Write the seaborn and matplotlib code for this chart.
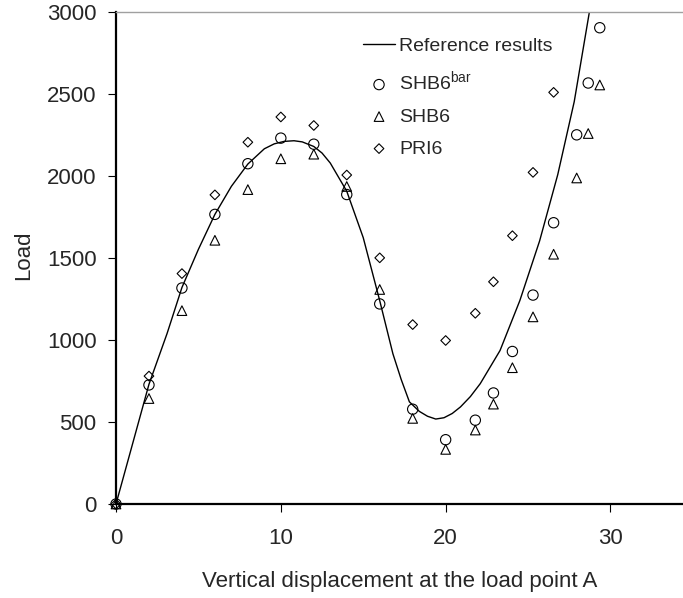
import numpy as np
import pandas as pd
import seaborn as sns
import matplotlib.pyplot as plt

# Reference curve
ref_x = [0, 0.85, 2.0, 3.1, 4.0, 5.0, 6.0, 7.0, 8.0, 9.0, 9.6, 10.2, 10.8, 11.3, 12.0,
         12.5, 13.0, 14.0, 15.0, 16.0, 16.8, 17.3, 17.8, 18.4, 18.9, 19.4, 19.9, 20.4,
         20.9, 21.5, 22.1, 23.3, 24.5, 25.7, 26.8, 27.8, 28.72]
ref_y = [0, 310, 730, 1040, 1320, 1553, 1766, 1937, 2073, 2166, 2196, 2211, 2215, 2208, 2180,
         2140, 2079, 1907, 1624, 1240, 916, 760, 623, 565, 535, 518, 526, 552,
         592, 655, 734, 936, 1240, 1604, 2008, 2453, 3000]

# SHB6^bar (circles)
bar_x = [0, 2, 4, 6, 8, 10, 12, 14, 16, 18, 20, 21.8, 22.9, 24.05, 25.3, 26.55, 27.95, 28.65, 29.35]
bar_y = [0, 726, 1317, 1766, 2075, 2231, 2194, 1887, 1220, 578, 392, 511, 677, 930, 1274, 1715, 2251, 2567, 2904]

# SHB6 (triangles)
shb_x = [0, 2, 4, 6, 8, 10, 12, 14, 16, 18, 20, 21.8, 22.9, 24.05, 25.3, 26.55, 27.95, 28.65, 29.35]
shb_y = [0, 643, 1179, 1608, 1917, 2105, 2133, 1936, 1308, 522, 333, 451, 609, 831, 1141, 1523, 1988, 2259, 2555]

# PRI6 (diamonds)
pri_x = [0, 2, 4, 6, 8, 10, 12, 14, 16, 18, 20, 21.8, 22.9, 24.05, 25.3, 26.55]
pri_y = [0, 780, 1405, 1885, 2206, 2360, 2308, 2006, 1501, 1094, 997, 1163, 1355, 1636, 2022, 2510]

sns.set_style("ticks")
plt.rcParams['font.family'] = ['Liberation Sans', 'DejaVu Sans']
plt.rcParams['mathtext.fontset'] = 'custom'
plt.rcParams['mathtext.rm'] = 'Liberation Sans'

fig = plt.figure(figsize=(6.83, 5.98), dpi=100)
ax = fig.add_axes([116/683, 94/598, 1 - 116/683, 492/598])

sns.lineplot(x=ref_x, y=ref_y, ax=ax, color="black", linewidth=1.0,
             sort=False, estimator=None, label="Reference results")
kw = dict(facecolor="none", edgecolor="black", linewidth=0.8, ax=ax, clip_on=False, zorder=3)
sns.scatterplot(x=bar_x, y=bar_y, marker="o", s=55, label="SHB6$^{\\mathrm{bar}}$", **kw)
sns.scatterplot(x=shb_x, y=shb_y, marker="^", s=48, label="SHB6", **kw)
sns.scatterplot(x=pri_x, y=pri_y, marker="D", s=24, label="PRI6", **kw)

ax.set_xlim(0, 34.4)
ax.set_ylim(0, 3000)
ax.set_xticks([0, 10, 20, 30])
ax.set_yticks([0, 500, 1000, 1500, 2000, 2500, 3000])

ax.spines['right'].set_visible(False)
ax.spines['top'].set_color('#a0a0a0')
ax.spines['top'].set_linewidth(1.0)
for s in ['left', 'bottom']:
    ax.spines[s].set_linewidth(1.6)
    ax.spines[s].set_color('black')
ax.tick_params(axis='both', direction='out', length=6, width=0.8, labelsize=16, color='black')
ax.tick_params(axis='x', pad=11)
ax.tick_params(axis='y', pad=8)

ax.set_xlabel("Vertical displacement at the load point A", fontsize=16)
ax.set_ylabel("Load", fontsize=16)
ax.xaxis.set_label_coords(0.5, -0.136)
ax.yaxis.set_label_coords(-0.145, 0.506)

ax.legend(loc="upper left", bbox_to_anchor=(0.4356, 0.949), frameon=False, fontsize=14,
          handlelength=1.65, handletextpad=0.2, labelspacing=0.74, borderpad=0, borderaxespad=0)

fig.savefig("out.png", dpi=100)
